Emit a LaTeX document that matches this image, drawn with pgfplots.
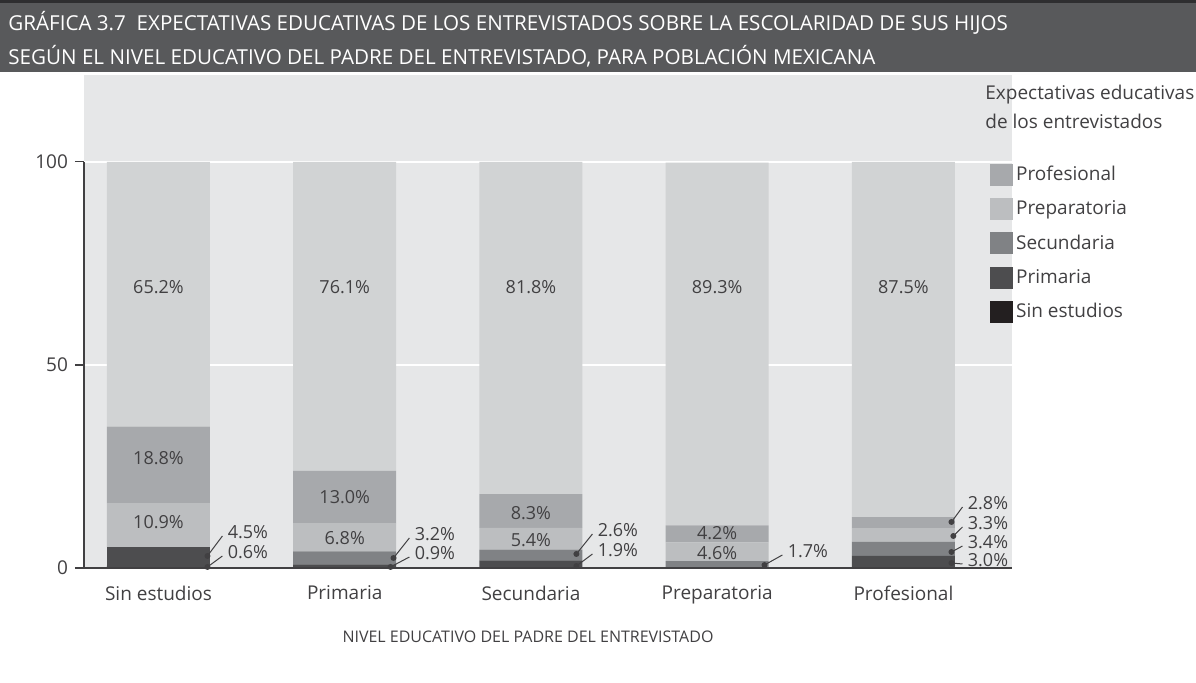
\documentclass[border=0pt]{standalone}
\usepackage{fontspec}
\setmainfont{Open Sans}
\usepackage{pgfplots}
\pgfplotsset{compat=1.18}

\definecolor{bgc}{HTML}{E6E7E8}
\definecolor{band}{HTML}{58595B}
\definecolor{stripe}{HTML}{2E2E30}
\definecolor{txt}{HTML}{414042}
\definecolor{cA}{HTML}{4D4D4F}
\definecolor{cB}{HTML}{808285}
\definecolor{cC}{HTML}{BCBEC0}
\definecolor{cD}{HTML}{A7A9AC}
\definecolor{cE}{HTML}{D1D3D4}
\definecolor{lsin}{HTML}{231F20}

% leader line + dot + label
\newcommand{\ann}[5]{%
  \fill[txt] (axis cs:#1,#2) circle (1.5pt);
  \draw[txt, line width=0.5pt] (axis cs:#1,#2) -- ([xshift=-2.5pt,yshift=-2pt]axis cs:#3,#4);
  \node[anchor=west, inner sep=0pt, text=txt, font=\fontsize{9}{11}\selectfont] at (axis cs:#3,#4) {#5\%};
}
\newcommand{\val}[3]{%
  \node[text=txt, font=\fontsize{9}{11}\selectfont] at (axis cs:#1,#2) {#3\%};
}
% drawn once the bars are down
\newcommand{\annotations}{%
  \draw[txt, line width=0.8pt] (axis cs:-0.4,0) -- (axis cs:4.583,0);
  \draw[txt, line width=0.6pt] (axis cs:-0.4,0) -- (axis cs:-0.4,100);
  \val{0}{69.2}{65.2} \val{1}{69.2}{76.1} \val{2}{69.2}{81.8} \val{3}{69.2}{89.3} \val{4}{69.2}{87.5}
  \val{0}{27.1}{18.8} \val{0}{11.3}{10.9}
  \val{1}{17.5}{13.0} \val{1}{7.4}{6.8}
  \val{2}{13.5}{8.3} \val{2}{6.9}{5.4}
  \val{3}{8.6}{4.2} \val{3}{3.7}{4.6}
  \ann{0.263}{2.96}{0.370}{8.87}{4.5}
  \ann{0.263}{0.25}{0.370}{3.94}{0.6}
  \ann{1.262}{2.46}{1.374}{8.37}{3.2}
  \ann{1.246}{0.25}{1.374}{3.69}{0.9}
  \ann{2.244}{3.45}{2.357}{9.36}{2.6}
  \ann{2.244}{0.49}{2.357}{4.43}{1.9}
  \ann{3.254}{0.74}{3.377}{4.19}{1.7}
  \ann{4.258}{11.33}{4.344}{16.0}{2.8}
  \ann{4.268}{7.88}{4.344}{11.08}{3.3}
  \ann{4.258}{3.94}{4.344}{6.40}{3.4}
  \ann{4.258}{1.23}{4.344}{1.97}{3.0}
}

\begin{document}
\begin{tikzpicture}
\path (-42pt,-57.5pt) rectangle (556pt,284pt);
\fill[band] (-42pt,248pt) rectangle (556pt,284pt);
\fill[stripe] (-42pt,282.5pt) rectangle (556pt,284pt);
\node[anchor=base west, text=white, inner sep=0pt, font=\fontsize{10.3}{12}\selectfont] at (-38pt,268.5pt)
  {GRÁFICA 3.7\ \ EXPECTATIVAS EDUCATIVAS DE LOS ENTREVISTADOS SOBRE LA ESCOLARIDAD DE SUS HIJOS};
\node[anchor=base west, text=white, inner sep=0pt, font=\fontsize{10.3}{12}\selectfont] at (-38pt,251.5pt)
  {SEGÚN EL NIVEL EDUCATIVO DEL PADRE DEL ENTREVISTADO, PARA POBLACIÓN MEXICANA};

\begin{axis}[
  at={(0,0)}, anchor=south west,
  scale only axis, width=464pt, height=246.5pt,
  xmin=-0.4, xmax=4.583, ymin=0, ymax=121.4,
  ybar stacked, bar width=51.5pt,
  axis background/.style={fill=bgc},
  axis line style={draw=none},
  ytick={0,50,100}, ytick pos=left, tick align=outside,
  major tick length=4.5pt,
  ytick style={draw=txt, line width=0.6pt},
  xtick={0,1,2,3,4},
  xticklabels={Sin estudios, Primaria, Secundaria, Preparatoria, Profesional},
  xtick style={draw=none},
  xticklabel style={yshift=-1pt},
  ymajorgrids, grid style={white, line width=0.9pt},
  tick label style={text=txt, font=\fontsize{9.5}{11}\selectfont},
  /pgf/number format/assume math mode=true,
  legend style={draw=none, fill=none, at={(0.976,0.822)}, anchor=north west,
    font=\fontsize{9.5}{11}\selectfont, text=txt, row sep=5.5pt, inner sep=0pt,
    nodes={inner sep=1.5pt}},
  legend cell align=left,
  legend image code/.code={\fill[#1] (0pt,-5.5pt) rectangle (11.5pt,5.5pt);},
  after end axis/.code={\annotations},
]
% stacked levels: Sin estudios, Primaria, Secundaria, Preparatoria, Profesional
\addplot[fill=cA, draw=none, forget plot] coordinates {(0,0.6) (1,0.9) (2,1.9) (3,0) (4,3.0)};
\addplot[fill=cA, draw=none, forget plot] coordinates {(0,4.5) (1,0) (2,0) (3,0) (4,0)};
\addplot[fill=cB, draw=none, forget plot] coordinates {(0,0) (1,3.2) (2,2.6) (3,1.7) (4,3.4)};
\addplot[fill=cC, draw=none, forget plot] coordinates {(0,10.9) (1,6.8) (2,5.4) (3,4.6) (4,3.3)};
\addplot[fill=cD, draw=none, forget plot] coordinates {(0,18.8) (1,13.0) (2,8.3) (3,4.2) (4,2.8)};
\addplot[fill=cE, draw=none, forget plot] coordinates {(0,65.2) (1,76.1) (2,81.8) (3,89.3) (4,87.5)};

\addlegendimage{fill=cD, draw=none}\addlegendentry{Profesional}
\addlegendimage{fill=cC, draw=none}\addlegendentry{Preparatoria}
\addlegendimage{fill=cB, draw=none}\addlegendentry{Secundaria}
\addlegendimage{fill=cA, draw=none}\addlegendentry{Primaria}
\addlegendimage{fill=lsin, draw=none}\addlegendentry{Sin estudios}
\end{axis}

\node[anchor=base west, text=txt, inner sep=0pt, font=\fontsize{9.5}{11}\selectfont] at (450.5pt,234pt) {Expectativas educativas};
\node[anchor=base west, text=txt, inner sep=0pt, font=\fontsize{9.5}{11}\selectfont] at (450.5pt,219.5pt) {de los entrevistados};
\node[text=txt, inner sep=0pt, font=\fontsize{8}{10}\selectfont] at (222pt,-34.5pt) {NIVEL EDUCATIVO DEL PADRE DEL ENTREVISTADO};
\end{tikzpicture}
\end{document}
